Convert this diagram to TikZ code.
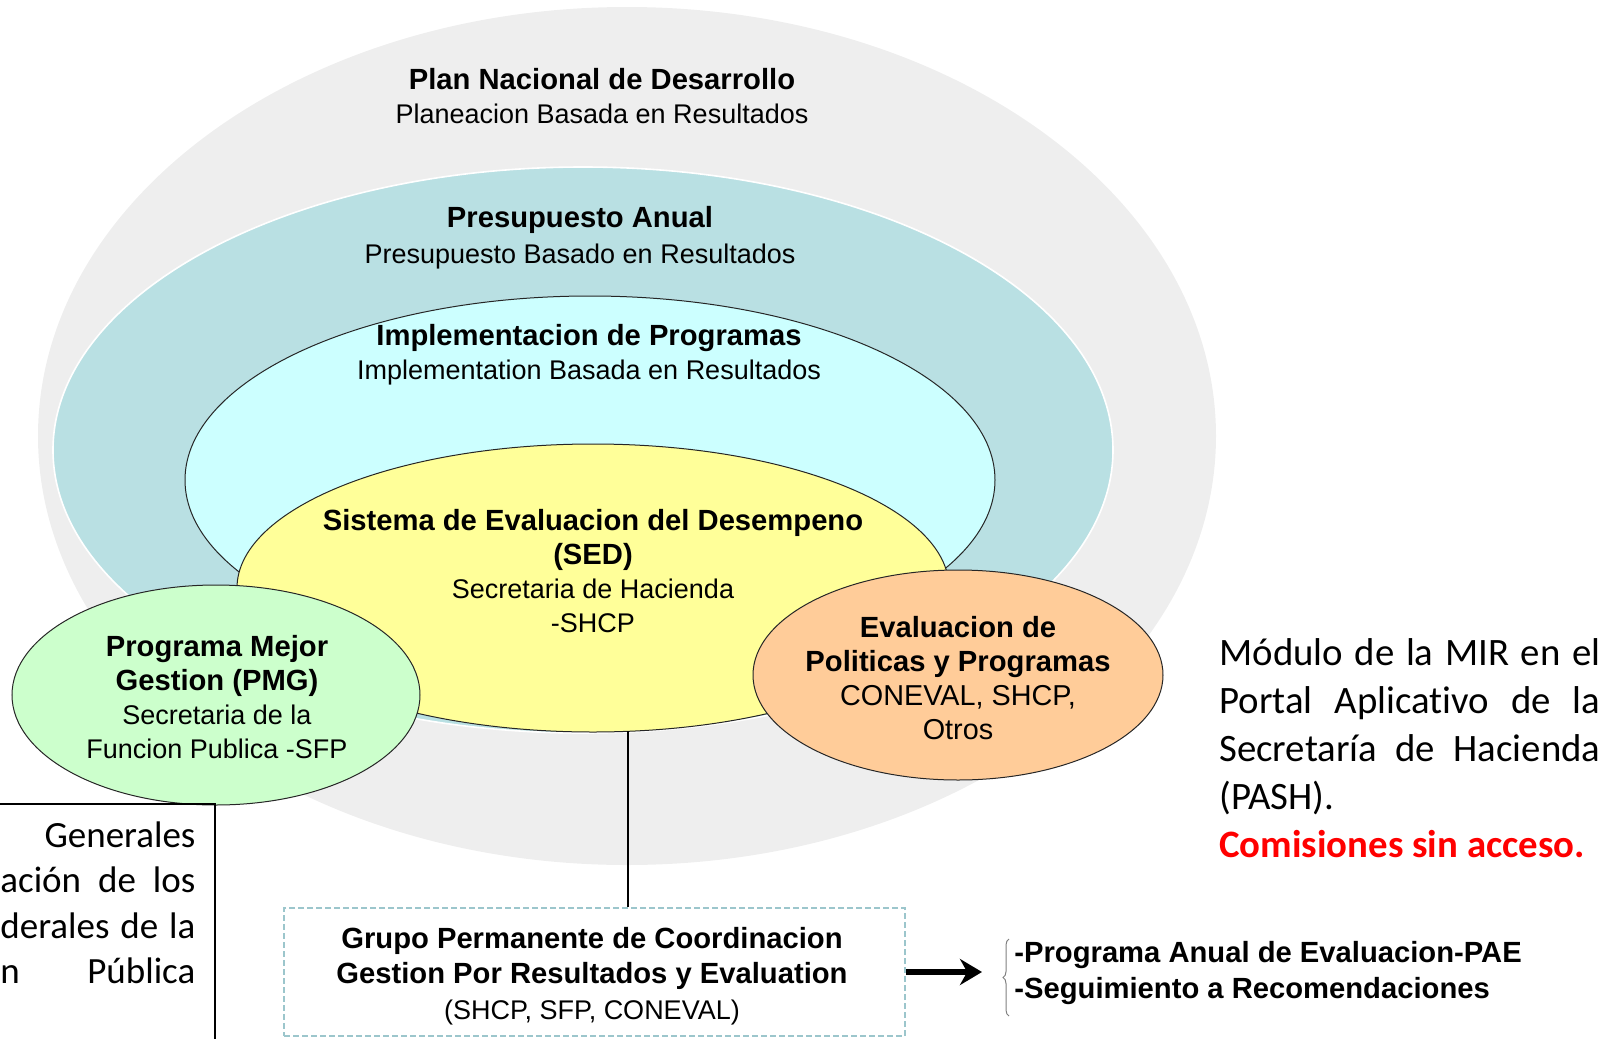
\documentclass[tikz,border=0pt]{standalone}
\usepackage{fontspec}
\setmainfont{Liberation Sans}
\newfontfamily\calibri[Ligatures=NoCommon]{Carlito}
\usetikzlibrary{shapes.geometric,arrows.meta,decorations.pathreplacing}

\definecolor{gris}{HTML}{EEEEEE}
\definecolor{azulgris}{HTML}{B9E0E3}
\definecolor{celeste}{HTML}{CCFFFF}
\definecolor{amarillo}{HTML}{FFFF99}
\definecolor{verde}{HTML}{CCFFCC}
\definecolor{naranja}{HTML}{FFCC99}
\definecolor{borde}{HTML}{9CC6CC}

\newcommand{\titulo}[1]{{\fontsize{14.6}{17}\selectfont\bfseries #1}}

\tikzset{
  elipse/.style={ellipse, inner sep=0pt, draw=black!85, line width=0.5pt},
  txt/.style={align=center, inner sep=0pt, font=\fontsize{13.5}{17}\selectfont},
  flecha/.style={line width=2.8pt, -{Stealth[length=11pt,width=13pt]}},
  llave/.style={draw=gray, line width=0.5pt, decorate, decoration={brace,amplitude=3pt}},
}

\begin{document}
\begin{tikzpicture}[x=0.5pt, y=-0.5pt]
  \useasboundingbox (0,0) rectangle (1618,1039);
  \clip (0,0) rectangle (1618,1039);

  % los circulos
  \node[elipse, draw=none, fill=gris, minimum width=589pt, minimum height=429pt] (pnd) at (627,436) {};
  \node[elipse, draw=white, line width=0.8pt, fill=azulgris, minimum width=530pt, minimum height=283pt] (pa) at (583,450) {};
  \node[elipse, fill=celeste, minimum width=405pt, minimum height=184pt] (ip) at (590,480) {};
  \node[elipse, fill=amarillo, minimum width=356pt, minimum height=144pt] (sed) at (593,588) {};
  \node[elipse, fill=verde, minimum width=204pt, minimum height=110pt] (pmg) at (216,695) {};
  \node[elipse, fill=naranja, minimum width=205pt, minimum height=105pt] (epp) at (958,675) {};

  % textos
  \node[txt] (pnd txt) at (602,96) {\titulo{Plan Nacional de Desarrollo}\\Planeacion Basada en Resultados};
  \node[txt] (pa txt) at (580,238) {\titulo{Presupuesto Anual}\\[1pt]Presupuesto Basado en Resultados};
  \node[txt] (ip txt) at (589,355) {\titulo{Implementacion de Programas}\\Implementation Basada en Resultados};
  \node[txt] (sed txt) at (593,571) {\titulo{Sistema de Evaluacion del Desempeno}\\\titulo{(SED)}\\Secretaria de Hacienda\\-SHCP};
  \node[txt] (pmg txt) at (217,697) {\titulo{Programa Mejor}\\\titulo{Gestion (PMG)}\\Secretaria de la\\Funcion Publica -SFP};
  \node[txt] (epp txt) at (958,678) {\titulo{Evaluacion de}\\\titulo{Politicas y Programas}\\{\fontsize{14.4}{17}\selectfont CONEVAL, SHCP,}\\{\fontsize{14.4}{17}\selectfont Otros}};

  % grupo y lista
  \node[draw=borde, line width=0.8pt, dash pattern=on 3pt off 1.5pt,
        minimum width=310.5pt, minimum height=64pt] (gpc) at (594.5,972) {};
  \node[txt] (gpc txt) at (592,976)
       {\titulo{Grupo Permanente de Coordinacion}\\[0.5pt]\titulo{Gestion Por Resultados y Evaluation}\\[1pt](SHCP, SFP, CONEVAL)};
  \node[anchor=west, align=left, inner sep=0pt, font=\fontsize{14.6}{18}\selectfont\bfseries] (pae) at (1014,973)
       {-Programa Anual de Evaluacion-PAE\\-Seguimiento a Recomendaciones};
  \coordinate (punta) at (982,968);
  \coordinate (llave a) at (1009,1016);
  \coordinate (llave b) at (1009,939);
  \coordinate (baja) at (628,731);

  % cuadros de texto
  \node[draw, line width=0.8pt, anchor=north east, minimum width=200pt, minimum height=200pt] (lin) at (216,803) {};
  \node[anchor=base west, text width=97.5pt, inner sep=0pt, align=justify,
        font=\calibri\fontsize{18.5}{22.8}\selectfont] (lin txt) at (0,847)
       {\hfill Generales\\ ación\hfill de\hfill los\\ derales\hfill de\hfill la\\ n\hfill Pública};
  \node[anchor=base west, text width=190.5pt, inner sep=0pt, align=justify,
        font=\calibri\fontsize{19.4}{24}\selectfont] (mir) at (1219,665)
       {Módulo de la MIR en el\linebreak Portal Aplicativo de la\linebreak Secretaría de Hacienda\linebreak (PASH).\\
        {\color{red}\bfseries Comisiones sin acceso.}};

  \begin{scope}
    \draw[line width=0.8pt] (baja) -- (baja |- gpc.north);
    \draw[flecha] (gpc.east) -- (gpc.east -| punta);
    \draw[llave] (llave a) -- (llave b);
  \end{scope}
\end{tikzpicture}
\end{document}
